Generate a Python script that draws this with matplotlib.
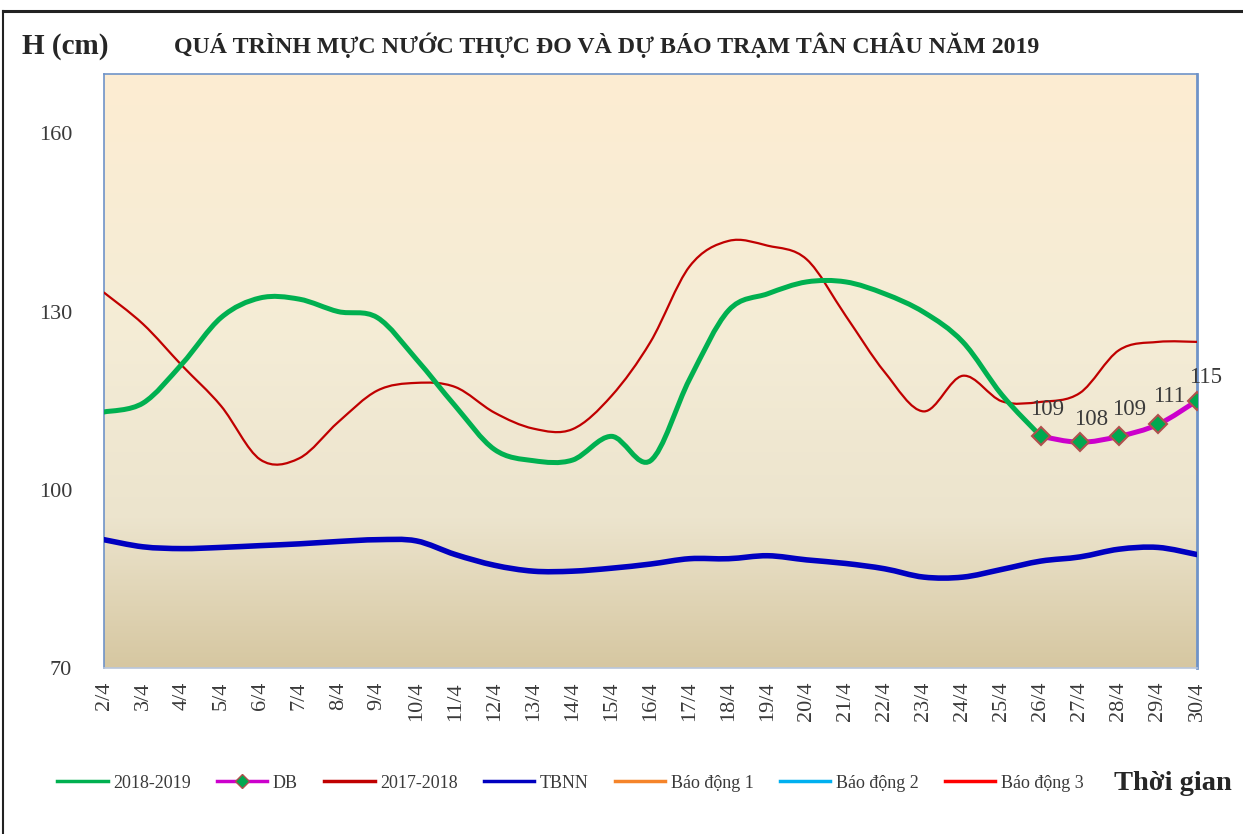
import numpy as np
import matplotlib
matplotlib.use("Agg")
import matplotlib.pyplot as plt
from matplotlib.path import Path
from matplotlib.patches import PathPatch
from matplotlib.lines import Line2D

# ---------------- data ----------------
days = ["2/4", "3/4", "4/4", "5/4", "6/4", "7/4", "8/4", "9/4", "10/4", "11/4",
        "12/4", "13/4", "14/4", "15/4", "16/4", "17/4", "18/4", "19/4", "20/4",
        "21/4", "22/4", "23/4", "24/4", "25/4", "26/4", "27/4", "28/4", "29/4", "30/4"]

# observed 2018-2019 (2/4 .. 26/4)
h_2018_2019 = [113.1, 114.6, 121.2, 129.0, 132.3, 132.1, 130.0, 129.0, 122.0, 114.1,
               106.8, 104.9, 105.0, 109.0, 104.9, 118.6, 130.2, 133.0, 135.0, 135.0,
               133.0, 129.9, 124.9, 116.0, 109.0]

# forecast DB (26/4 .. 30/4)
db_days = ["26/4", "27/4", "28/4", "29/4", "30/4"]
h_db = [109, 108, 109, 111, 115]

# 2017-2018
h_2017_2018 = [133.2, 127.9, 120.9, 114.1, 105.1, 105.3, 111.4, 116.7, 118.0, 117.3,
               113.0, 110.3, 110.2, 115.8, 124.9, 137.6, 141.9, 141.1, 138.8, 129.3,
               119.8, 113.2, 119.2, 114.9, 114.8, 116.3, 123.5, 124.9, 124.9]

# TBNN
h_tbnn = [91.6, 90.4, 90.1, 90.3, 90.6, 90.9, 91.3, 91.6, 91.4, 89.1,
          87.3, 86.3, 86.3, 86.8, 87.5, 88.4, 88.4, 88.9, 88.2, 87.6,
          86.7, 85.3, 85.3, 86.6, 88.0, 88.7, 90.0, 90.3, 89.1]

legend_labels = ["2018-2019", "DB", "2017-2018", "TBNN", "Báo động 1", "Báo động 2", "Báo động 3"]

# ---------------- style ----------------
C_GREEN = "#00B050"
C_DB = "#CC00CC"
C_RED17 = "#C00000"
C_TBNN = "#0000C0"
C_BD1 = "#F5842A"
C_BD2 = "#00B0F0"
C_BD3 = "#FF0000"
TXT = "#3A3A3A"
SERIF = ["Liberation Serif", "DejaVu Serif"]

plt.rcParams["font.family"] = SERIF

fig = plt.figure(figsize=(12.43, 8.34), dpi=100)
ax = fig.add_axes([104 / 1243, 1 - 668 / 834, (1197 - 104) / 1243, (668 - 74) / 834])

x_all = np.arange(len(days))
ax.set_xlim(0, len(days) - 1)
ax.set_ylim(70, 170)

# gradient background
stops = np.array([[253, 237, 210], [244, 236, 214], [236, 228, 205], [214, 199, 161]]) / 255.0
pos = np.array([0.0, 0.45, 0.75, 1.0])
t = np.linspace(0, 1, 256)
grad = np.stack([np.interp(t, pos, stops[:, k]) for k in range(3)], axis=1)
ax.imshow(grad[:, None, :], extent=[0, len(days) - 1, 70, 170], aspect="auto",
          origin="upper", zorder=0, interpolation="bilinear")


def smooth_path(xs, ys, tension=1 / 6):
    pts = np.column_stack([xs, ys]).astype(float)
    n = len(pts)
    verts = [pts[0]]
    codes = [Path.MOVETO]
    for i in range(n - 1):
        p0 = pts[i - 1] if i > 0 else pts[i]
        p1 = pts[i]
        p2 = pts[i + 1]
        p3 = pts[i + 2] if i + 2 < n else pts[i + 1]
        c1 = p1 + (p2 - p0) * tension
        c2 = p2 - (p3 - p1) * tension
        verts += [c1, c2, p2]
        codes += [Path.CURVE4] * 3
    return Path(verts, codes)


def add_smooth(xs, ys, color, lw, z):
    ax.add_patch(PathPatch(smooth_path(xs, ys), facecolor="none", edgecolor=color,
                           lw=lw, zorder=z, capstyle="round", joinstyle="round"))


add_smooth(x_all, h_tbnn, C_TBNN, 4.0, 3)
add_smooth(x_all, h_2017_2018, C_RED17, 1.6, 4)
x_obs = np.arange(len(h_2018_2019))
add_smooth(x_obs, h_2018_2019, C_GREEN, 3.6, 5)
x_db = np.array([days.index(d) for d in db_days])
add_smooth(x_db, h_db, C_DB, 3.6, 6)
ax.plot(x_db, h_db, linestyle="none", marker="D", markersize=9,
        markerfacecolor="#00A850", markeredgecolor="#B0504D", markeredgewidth=1.5, zorder=7)

label_offsets = [(4.3, 19.4), (7.9, 16.6), (7.2, 19.4), (7.9, 20.2), (5.8, 16.6)]
for xi, v, off in zip(x_db, h_db, label_offsets):
    ax.annotate(f"{v}", (xi, v), xytext=off, textcoords="offset points",
                ha="center", va="center", fontsize=16.5, color=TXT, zorder=8,
                annotation_clip=False)

# axes styling
ax.set_yticks([70, 100, 130, 160])
ax.set_xticks(x_all)
ax.set_xticklabels(days, rotation=90)
ax.tick_params(axis="both", length=0, labelsize=16, labelcolor=TXT)
ax.tick_params(axis="y", pad=23)
ax.tick_params(axis="x", pad=10)
for s in ax.spines.values():
    s.set_color("#6F93C8")
    s.set_linewidth(1.2)
ax.spines["right"].set_linewidth(2.0)
ax.spines["bottom"].set_color("#B8C6DC")

# legend
handles = [
    Line2D([], [], color=C_GREEN, lw=2.5),
    Line2D([], [], color=C_DB, lw=2.5, marker="D", markersize=7,
           markerfacecolor="#00A850", markeredgecolor="#B0504D"),
    Line2D([], [], color=C_RED17, lw=2.5),
    Line2D([], [], color=C_TBNN, lw=2.5),
    Line2D([], [], color=C_BD1, lw=2.5),
    Line2D([], [], color=C_BD2, lw=2.5),
    Line2D([], [], color=C_BD3, lw=2.5),
]
leg = fig.legend(handles, legend_labels, loc="center left", bbox_to_anchor=(48 / 1243, 1 - 783 / 834),
                 ncol=7, frameon=False, fontsize=13, handlelength=2.8, handletextpad=0.3,
                 columnspacing=1.45, borderpad=0)
for txt in leg.get_texts():
    txt.set_color(TXT)

# titles
fig.text(22 / 1243, 1 - 47 / 834, "H (cm)", fontsize=21, fontweight="bold", color="#262626",
         va="center", ha="left")
fig.text(607 / 1243, 1 - 45 / 834, "QUÁ TRÌNH MỰC NƯỚC THỰC ĐO VÀ DỰ BÁO TRẠM TÂN CHÂU NĂM 2019",
         fontsize=17.2, fontweight="bold", color="#262626", va="center", ha="center")
fig.text(1232 / 1243, 1 - 783 / 834, "Thời gian", fontsize=20.5, fontweight="bold", color="#262626",
         va="center", ha="right")

# outer frame lines
fig.add_artist(Line2D([3 / 1243, 1.0], [1 - 11 / 834, 1 - 11 / 834], color="#222222", lw=2.2,
                      transform=fig.transFigure))
fig.add_artist(Line2D([3 / 1243, 3 / 1243], [0, 1 - 11 / 834], color="#222222", lw=1.5,
                      transform=fig.transFigure))

fig.savefig("out.png", dpi=100)
